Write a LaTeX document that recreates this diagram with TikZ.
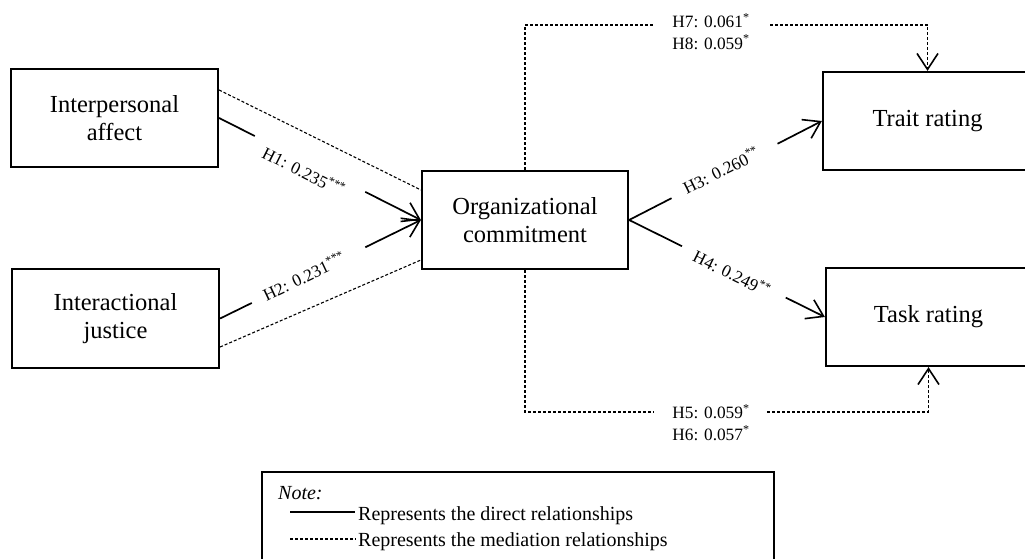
\documentclass[tikz,border=0pt]{standalone}
\usepackage{fontspec}
\setmainfont{Liberation Serif}
\usetikzlibrary{arrows.meta,calc}
\begin{document}
\begin{tikzpicture}[x=1pt,y=1pt,
  box/.style={draw, line width=2.2pt, minimum height=98pt, inner sep=0pt, align=center, font=\fontsize{24.5}{28}\selectfont},
  direct/.style={line width=1.7pt},
  tipped/.style={-{Straight Barb[length=16pt,width=21pt,line width=1.6pt]}},
  mediate/.style={line width=1.1pt, dash pattern=on 3pt off 2pt},
  lab/.style={font=\fontsize{17.3}{21.5}\selectfont, inner sep=0pt},
  legtext/.style={font=\fontsize{20}{23}\selectfont, inner sep=0pt, anchor=base west},
]
\useasboundingbox (0,0) rectangle (1025,559);
\clip (0,0) rectangle (1025,559);

% boxes
\node[box, minimum width=207pt] (ia) at (114.5,441) {Interpersonal\\affect};
\node[box, minimum width=207pt, minimum height=99pt] (ij) at (115.5,240.5) {Interactional\\justice};
\node[box, minimum width=206pt] (oc) at (525,339) {Organizational\\commitment};
\node[box, minimum width=209pt] (tr) at (927.5,438) {Trait rating};
\node[box, minimum width=205pt] (tk) at (928.5,242) {Task rating};

% direct paths
\draw[direct] (ia.east) -- ($(ia.east)!0.177!(oc.west)$);
\draw[direct,tipped] ($(ia.east)!0.724!(oc.west)$) -- (oc.west);
\draw[direct] (ij.east) -- ($(ij.east)!0.158!(oc.west)$);
\draw[direct,tipped] ($(ij.east)!0.723!(oc.west)$) -- (oc.west);
\draw[direct] (oc.east) -- ($(oc.east)!0.22!(tr.west)$);
\draw[direct,tipped] ($(oc.east)!0.77!(tr.west)$) -- (tr.west);
\draw[direct] (oc.east) -- ($(oc.east)!0.27!(tk.west)$);
\draw[direct,tipped] ($(oc.east)!0.80!(tk.west)$) -- (tk.west);

% labels on direct paths
\node[lab, rotate=-26.7] (l1) at (304,388) {H1: 0.235\textsuperscript{***}};
\node[lab, rotate=25.4] (l2) at (304,283) {H2: 0.231\textsuperscript{***}};
\node[lab, rotate=26.4] (l3) at (721,389) {H3: 0.260\textsuperscript{**}};
\node[lab, rotate=-26.3] (l4) at (732,286) {H4: 0.249\textsuperscript{**}};

% mediation paths
\draw[mediate] ($(ia.east)+(0,28)$) -- ($(oc.west)+(0,30)$);
\draw[mediate] ($(ij.east)+(0,-28.5)$) -- ($(oc.west)+(0,-40)$);

\coordinate (ta) at (655,534);
\coordinate (tb) at (770,534);
\draw[mediate] (oc.north) |- (ta);
\draw[mediate,tipped] (tb) -| (tr.north);
\node[lab, align=left] (l78) at (711,527.5) {H7: 0.061\textsuperscript{*}\\H8: 0.059\textsuperscript{*}};

\coordinate (ba) at (654,147);
\coordinate (bb) at (767,147);
\draw[mediate] (oc.south) |- (ba);
\draw[mediate,tipped] (bb) -| (tk.south);
\node[lab, align=left] (l56) at (711,136.5) {H5: 0.059\textsuperscript{*}\\H6: 0.057\textsuperscript{*}};

% legend
\node[draw, line width=2.2pt, minimum width=512pt, minimum height=108pt, inner sep=0pt, anchor=north west] (note) at (261,88) {};
\node[legtext] (nt) at (278,59) {\itshape Note:};
\coordinate (s1) at (290,47);
\coordinate (s2) at (355,47);
\draw[line width=1.5pt] (s1) -- (s2);
\node[legtext] (t1) at (358,38) {Represents the direct relationships};
\coordinate (d1) at (290,20);
\coordinate (d2) at (356,20);
\draw[mediate] (d1) -- (d2);
\node[legtext] (t2) at (358,12) {Represents the mediation relationships};
\end{tikzpicture}
\end{document}
